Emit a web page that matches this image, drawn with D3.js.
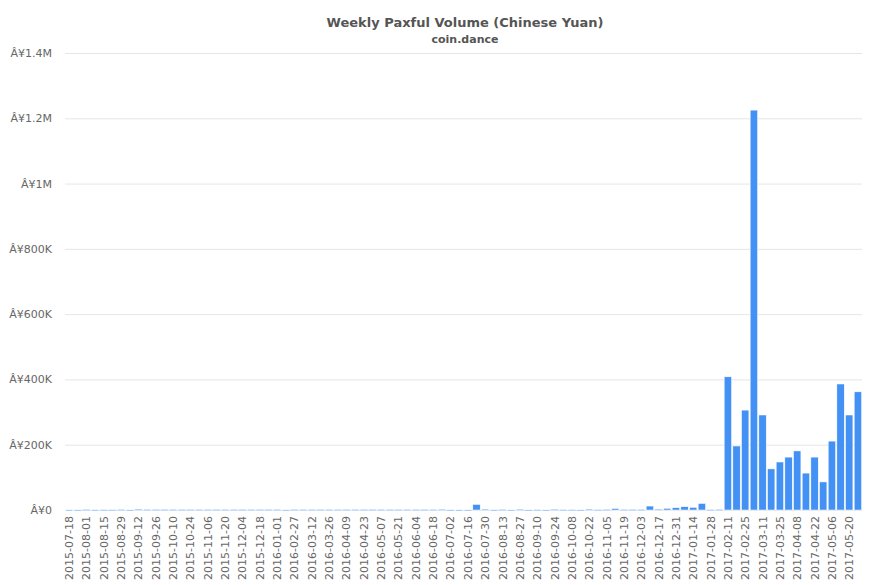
<!DOCTYPE html>
<html><head><meta charset="utf-8">
<script src="https://cdn.jsdelivr.net/npm/d3@7"></script>
<style>body{margin:0;background:#fff;font-family:"DejaVu Sans",Verdana,sans-serif}</style>
</head><body><svg id="chart" width="877" height="585"></svg>
<script>
var weeks = ["2015-07-18","2015-07-25","2015-08-01","2015-08-08","2015-08-15","2015-08-22","2015-08-29","2015-09-05","2015-09-12","2015-09-19",
"2015-09-26","2015-10-03","2015-10-10","2015-10-17","2015-10-24","2015-10-31","2015-11-06","2015-11-13","2015-11-20","2015-11-27",
"2015-12-04","2015-12-11","2015-12-18","2015-12-25","2016-01-01","2016-02-20","2016-02-27","2016-03-05","2016-03-12","2016-03-19",
"2016-03-26","2016-04-02","2016-04-09","2016-04-16","2016-04-23","2016-04-30","2016-05-07","2016-05-14","2016-05-21","2016-05-28",
"2016-06-04","2016-06-11","2016-06-18","2016-06-25","2016-07-02","2016-07-09","2016-07-16","2016-07-23","2016-07-30","2016-08-06",
"2016-08-13","2016-08-20","2016-08-27","2016-09-03","2016-09-10","2016-09-17","2016-09-24","2016-10-01","2016-10-08","2016-10-15",
"2016-10-22","2016-10-29","2016-11-05","2016-11-12","2016-11-19","2016-11-26","2016-12-03","2016-12-10","2016-12-17","2016-12-24",
"2016-12-31","2017-01-07","2017-01-14","2017-01-21","2017-01-28","2017-02-04","2017-02-11","2017-02-18","2017-02-25","2017-03-04",
"2017-03-11","2017-03-18","2017-03-25","2017-04-01","2017-04-08","2017-04-15","2017-04-22","2017-04-29","2017-05-06","2017-05-13",
"2017-05-20","2017-05-27"];
var volume = [500,300,1500,500,1000,800,1500,300,2500,1500,
1500,1500,1500,1500,1500,1500,1500,1500,1500,1500,
1500,1500,1500,1500,1500,300,1500,1500,1500,1500,
1500,1500,1500,1500,1500,1500,1500,1500,1500,1500,
1500,1500,1500,2000,300,300,300,17000,2500,500,
1500,300,2000,300,1000,300,2000,1000,1000,300,
2500,1000,1500,4500,1500,1500,1500,12000,2500,5000,
7000,10000,8000,20000,1000,1500,408000,196000,306000,1225000,
291000,126000,147000,162000,181000,113000,162000,86000,211000,386000,
291000,362000];
var yTicks = [0,200000,400000,600000,800000,1000000,1200000,1400000];
var yLabels = ["Â¥0","Â¥200K","Â¥400K","Â¥600K","Â¥800K","Â¥1M","Â¥1.2M","Â¥1.4M"];

var svg = d3.select("#chart");
var m = {left:65, right:15, top:53, bottom:75};
var W = 877, H = 585;
var x = d3.scaleBand().domain(weeks).range([m.left, W-m.right]).paddingInner(0.15).paddingOuter(0.05);
var y = d3.scaleLinear().domain([0,1400000]).range([H-m.bottom, m.top]);

svg.append("text").attr("x",465).attr("y",27).attr("text-anchor","middle")
  .attr("font-size",13).attr("font-weight","bold").attr("fill","#555").text("Weekly Paxful Volume (Chinese Yuan)");
svg.append("text").attr("x",465).attr("y",43).attr("text-anchor","middle")
  .attr("font-size",11).attr("font-weight","bold").attr("fill","#555").text("coin.dance");

svg.append("g").selectAll("line").data(yTicks).join("line")
  .attr("x1",m.left).attr("x2",W-m.right).attr("y1",d=>y(d)+0.5).attr("y2",d=>y(d)+0.5)
  .attr("stroke","#e6e6e6");
svg.append("g").selectAll("text").data(yTicks).join("text")
  .attr("x",52).attr("y",d=>y(d)+4).attr("text-anchor","end")
  .attr("font-size",11).attr("fill","#666").text((d,i)=>yLabels[i]);

svg.append("g").selectAll("rect").data(weeks).join("rect")
  .attr("x",d=>x(d)).attr("width",x.bandwidth())
  .attr("y",(d,i)=>y(volume[i])).attr("height",(d,i)=>Math.max(1,y(0)-y(volume[i])))
  .attr("fill","#4391f4").attr("stroke","#fff").attr("stroke-width",0.5);

svg.append("g").selectAll("text").data(weeks.filter((d,i)=>i%2==0)).join("text")
  .attr("transform",d=>"translate("+(x(d)+x.bandwidth()/2+4)+","+(H-m.bottom+6)+") rotate(-90)")
  .attr("text-anchor","end").attr("font-size",11).attr("fill","#666").text(d=>d);
</script></body></html>
